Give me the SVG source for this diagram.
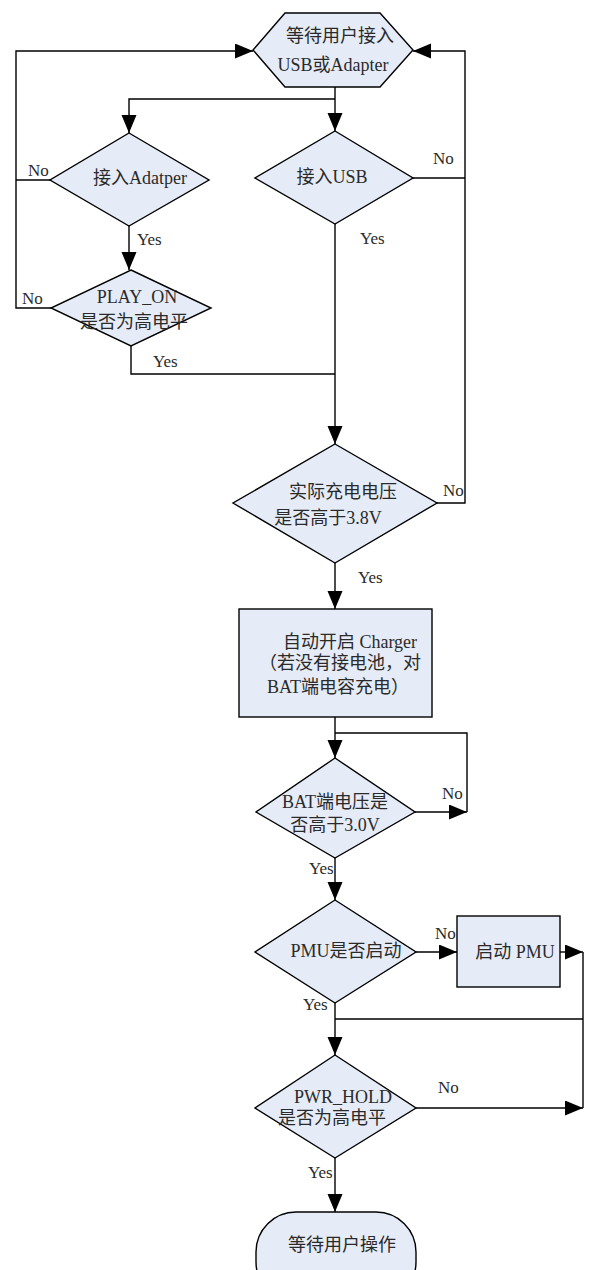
<svg xmlns="http://www.w3.org/2000/svg" width="589" height="1270" viewBox="0 0 589 1270">
<style>
.shape{fill:#e6ecf7;stroke:#000;stroke-width:1.4}
.conn{fill:none;stroke:#000;stroke-width:1.4}
text{font-family:"Liberation Serif","Noto Sans CJK SC",serif;font-size:18px;fill:#2a2a2a}
.lbl{font-size:17px}
.c{text-anchor:middle}
</style>
<defs>
<marker id="arr" markerUnits="userSpaceOnUse" markerWidth="20" markerHeight="16" refX="18" refY="7.5" orient="auto">
<path d="M0,0 L18,7.5 L0,15 z" fill="#000"/>
</marker>
</defs>
<rect width="589" height="1270" fill="#fff"/>
<g id="connectors">
<path class="conn" d="M51,308 H16 V51 H253" marker-end="url(#arr)"/>
<path class="conn" d="M50,180 H16"/>
<path class="conn" d="M413,178 H465"/>
<path class="conn" d="M437,503 H465 V51 H413" marker-end="url(#arr)"/>
<path class="conn" d="M335,87 V131" marker-end="url(#arr)"/>
<path class="conn" d="M335,99 H129 V133" marker-end="url(#arr)"/>
<path class="conn" d="M129,226 V270" marker-end="url(#arr)"/>
<path class="conn" d="M131,346 V374 H335"/>
<path class="conn" d="M335,224 V444" marker-end="url(#arr)"/>
<path class="conn" d="M335,563 V609" marker-end="url(#arr)"/>
<path class="conn" d="M335,717 V758" marker-end="url(#arr)"/>
<path class="conn" d="M335,733 H467 V812"/>
<path class="conn" d="M415,812 H467" marker-end="url(#arr)"/>
<path class="conn" d="M335,858 V900" marker-end="url(#arr)"/>
<path class="conn" d="M416,952 H457" marker-end="url(#arr)"/>
<path class="conn" d="M560,952 H583" marker-end="url(#arr)"/>
<path class="conn" d="M583,952 V1108"/>
<path class="conn" d="M335,1003 V1055" marker-end="url(#arr)"/>
<path class="conn" d="M335,1019 H583"/>
<path class="conn" d="M416,1108 H583" marker-end="url(#arr)"/>
<path class="conn" d="M335,1158 V1212" marker-end="url(#arr)"/>
<text class="lbl" x="28" y="176">No</text>
<text class="lbl" x="22" y="304">No</text>
<text class="lbl" x="433" y="164">No</text>
<text class="lbl" x="443" y="496">No</text>
<text class="lbl" x="442" y="799">No</text>
<text class="lbl" x="435" y="939">No</text>
<text class="lbl" x="438" y="1093">No</text>
<text class="lbl" x="137" y="245">Yes</text>
<text class="lbl" x="153" y="367">Yes</text>
<text class="lbl" x="360" y="244">Yes</text>
<text class="lbl" x="358" y="583">Yes</text>
<text class="lbl" x="309" y="874">Yes</text>
<text class="lbl" x="303" y="1010">Yes</text>
<text class="lbl" x="308" y="1178">Yes</text>
</g>
<g id="start">
<polygon class="shape" points="253,50 285,13 380,13 413,50 380,87 285,87"/>
<text class="c" x="340" y="42">等待用户接入</text>
<text class="c" x="333" y="71">USB或Adapter</text>
</g>
<g id="adapter">
<polygon class="shape" points="129,133 209,180 129,226 50,180"/>
<text class="c" x="140" y="184">接入Adatper</text>
</g>
<g id="usb">
<polygon class="shape" points="335,131 413,178 335,224 255,178"/>
<text class="c" x="332" y="183">接入USB</text>
</g>
<g id="playon">
<polygon class="shape" points="131,270 211,308 131,346 51,308"/>
<text class="c" x="137" y="303">PLAY_ON</text>
<text class="c" x="134" y="328">是否为高电平</text>
</g>
<g id="volt38">
<polygon class="shape" points="335,444 437,503 335,563 233,503"/>
<text class="c" x="343" y="498">实际充电电压</text>
<text class="c" x="328" y="524">是否高于3.8V</text>
</g>
<g id="charger">
<rect class="shape" x="239" y="609" width="193" height="108"/>
<text class="c" x="350" y="648">自动开启 Charger</text>
<text class="c" x="340" y="669">（若没有接电池，对</text>
<text class="c" x="338" y="693">BAT端电容充电）</text>
</g>
<g id="bat30">
<polygon class="shape" points="335,758 415,812 335,858 256,812"/>
<text class="c" x="335" y="808">BAT端电压是</text>
<text class="c" x="335" y="831">否高于3.0V</text>
</g>
<g id="pmu">
<polygon class="shape" points="335,900 416,952 335,1003 255,952"/>
<text class="c" x="346" y="957">PMU是否启动</text>
</g>
<g id="startpmu">
<rect class="shape" x="457" y="916" width="103" height="71"/>
<text class="c" x="515" y="958">启动 PMU</text>
</g>
<g id="pwrhold">
<polygon class="shape" points="335,1055 416,1108 335,1158 255,1108"/>
<text class="c" x="343" y="1103">PWR_HOLD</text>
<text class="c" x="332" y="1124">是否为高电平</text>
</g>
<g id="end">
<rect class="shape" x="256" y="1212" width="160" height="90" rx="40" ry="40"/>
<text class="c" x="342" y="1251">等待用户操作</text>
</g>
</svg>
